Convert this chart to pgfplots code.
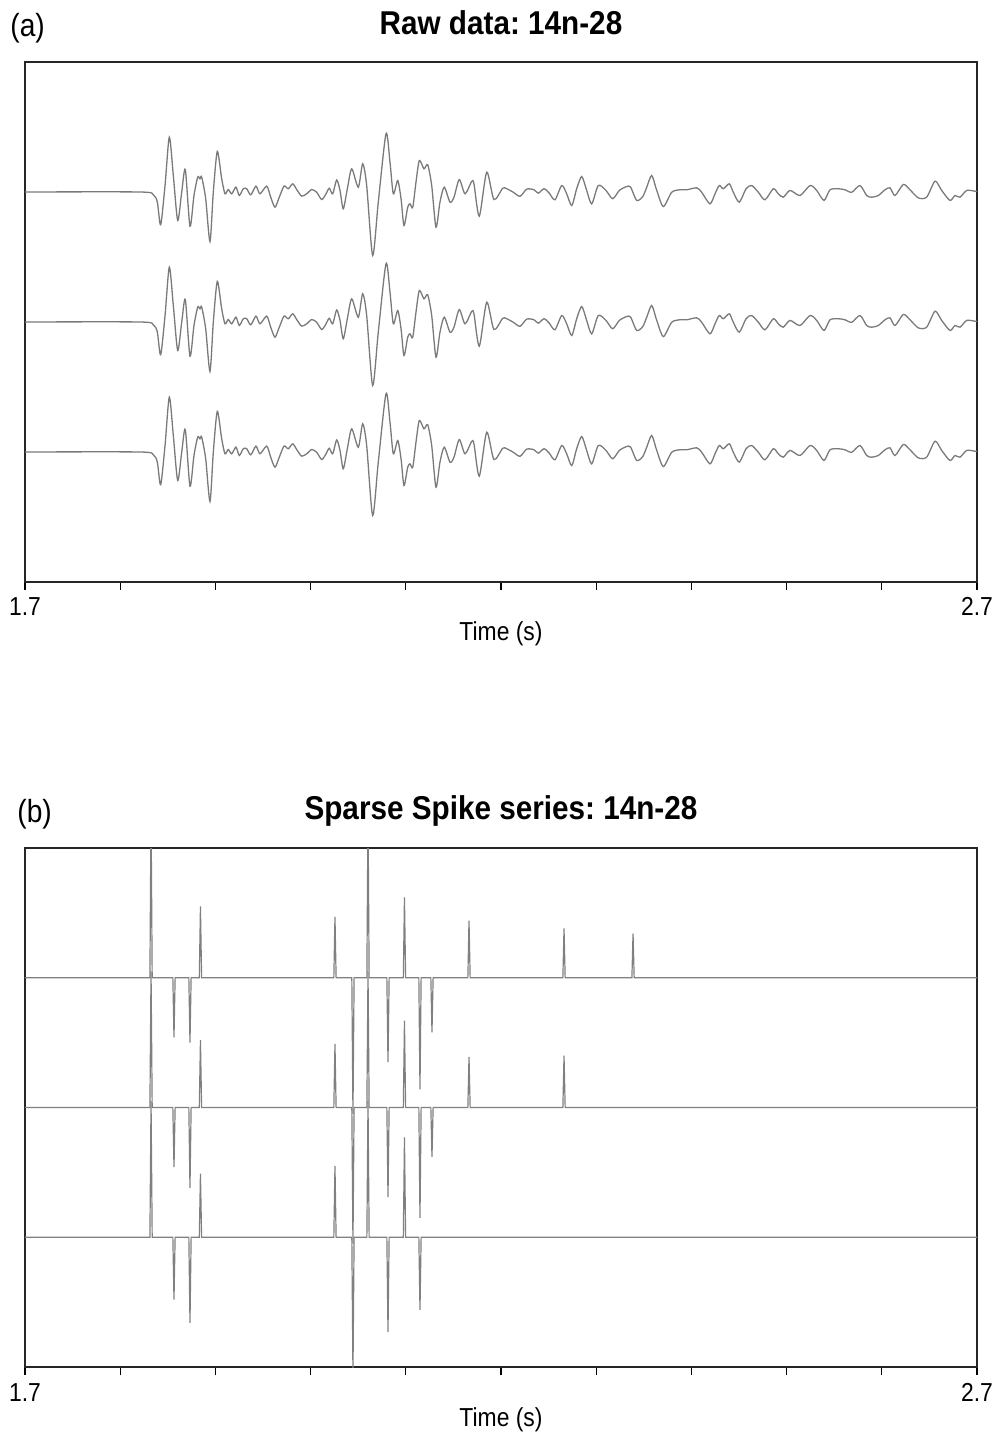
\documentclass[border=0pt]{standalone}
\usepackage{pgfplots}
\usepackage{pgfplotstable}
\pgfplotsset{compat=1.18}
\usepackage{fontspec}
\setmainfont{Liberation Sans}
\newfontfamily\narrowfont[FakeStretch=0.88]{Liberation Sans}
\newfontfamily\narrowbold[FakeStretch=0.9]{Liberation Sans Bold}
\definecolor{wave}{HTML}{7A7A7A}
\definecolor{spk}{HTML}{808080}
\frenchspacing

\pgfplotstableread{
t a
1.7000 0
1.8208 0
1.8348 -0.022
1.8390 -0.078
1.8425 -0.252
1.8471 0.050
1.8516 0.422
1.8558 0.127
1.8604 -0.219
1.8646 -0.002
1.8684 0.171
1.8733 -0.263
1.8775 -0.027
1.8814 0.114
1.8838 0.102
1.8856 0.114
1.8898 -0.052
1.8943 -0.381
1.8978 -0.002
1.9020 0.312
1.9066 0.102
1.9101 -0.014
1.9135 0.019
1.9171 -0.014
1.9216 0.037
1.9251 -0.027
1.9293 0.025
1.9329 0.025
1.9371 -0.022
1.9426 0.045
1.9468 -0.014
1.9539 0.045
1.9581 -0.040
1.9626 -0.117
1.9671 -0.040
1.9721 0.045
1.9766 0.025
1.9812 0.063
1.9854 0.019
1.9906 -0.032
1.9959 -0.014
2.0012 0.019
2.0064 -0.002
2.0117 -0.058
2.0162 -0.014
2.0196 0.029
2.0232 -0.014
2.0274 0.092
2.0309 0.012
2.0343 -0.129
2.0386 0.025
2.0432 0.178
2.0501 0.037
2.0547 0.217
2.0589 0.050
2.0652 -0.488
2.0711 -0.078
2.0792 0.448
2.0834 0.229
2.0869 -0.014
2.0915 0.088
2.0950 -0.052
2.0981 -0.258
2.1020 -0.117
2.1044 -0.091
2.1073 -0.117
2.1107 0.075
2.1142 0.242
2.1191 0.178
2.1230 0.209
2.1272 0.050
2.1317 -0.271
2.1359 -0.078
2.1404 0.037
2.1464 -0.078
2.1506 -0.040
2.1562 0.096
2.1622 -0.014
2.1692 0.081
2.1716 0.063
2.1772 -0.186
2.1850 0.152
2.1926 -0.058
2.2018 0.029
2.2060 0.025
2.2129 -0.002
2.2200 -0.033
2.2270 0.022
2.2347 0.017
2.2392 -0.009
2.2452 0.025
2.2507 -0.009
2.2567 -0.060
2.2638 0.050
2.2690 -0.014
2.2743 -0.104
2.2795 0.025
2.2848 0.119
2.2900 0.012
2.2953 -0.091
2.3022 0.050
2.3103 0.012
2.3173 -0.052
2.3243 0.012
2.3320 0.042
2.3362 0.037
2.3425 -0.065
2.3489 -0.035
2.3531 0.037
2.3583 0.127
2.3636 0.012
2.3705 -0.112
2.3793 -0.002
2.3880 0.017
2.3951 0.017
2.4056 0.032
2.4108 -0.002
2.4195 -0.091
2.4248 -0.014
2.4293 0.050
2.4335 0.025
2.4398 0.063
2.4440 -0.002
2.4503 -0.078
2.4574 0.025
2.4633 0.050
2.4703 -0.002
2.4773 -0.060
2.4860 0.025
2.4913 -0.014
2.4965 -0.040
2.5036 0.012
2.5141 -0.027
2.5246 0.050
2.5316 0.012
2.5393 -0.065
2.5456 0.017
2.5543 0.025
2.5613 0.017
2.5684 -0.002
2.5771 0.050
2.5841 -0.027
2.5894 -0.040
2.5963 -0.027
2.6034 0.017
2.6086 0.032
2.6139 -0.027
2.6226 0.058
2.6296 0.017
2.6383 -0.045
2.6471 -0.040
2.6559 0.083
2.6629 0.012
2.6716 -0.065
2.6769 -0.027
2.6821 -0.040
2.6892 0.012
2.6979 0.006
2.7000 0.006
}\rawtrace

\pgfplotstableread{
t a
1.7000 0
1.8312 0
1.8324 1.3
1.8336 0
1.8553 0
1.8565 -0.46
1.8577 0
1.8721 0
1.8733 -0.50
1.8745 0
1.8831 0
1.8843 0.55
1.8855 0
2.0244 0
2.0256 0.47
2.0268 0
2.0433 0
2.0445 -1.05
2.0457 0
2.0591 0
2.0603 1.3
2.0615 0
2.0801 0
2.0813 -0.65
2.0825 0
2.0974 0
2.0986 0.62
2.0998 0
2.1137 0
2.1149 -0.86
2.1161 0
2.1263 0
2.1275 -0.42
2.1287 0
2.1652 0
2.1664 0.44
2.1676 0
2.2650 0
2.2662 0.38
2.2674 0
2.3375 0
2.3387 0.34
2.3399 0
2.7000 0
}\spikeA

\pgfplotstableread{
t a
1.7000 0
1.8312 0
1.8324 1.05
1.8336 0
1.8553 0
1.8565 -0.46
1.8577 0
1.8721 0
1.8733 -0.62
1.8745 0
1.8831 0
1.8843 0.52
1.8855 0
2.0244 0
2.0256 0.49
2.0268 0
2.0433 0
2.0445 -1.05
2.0457 0
2.0591 0
2.0603 1.05
2.0615 0
2.0801 0
2.0813 -0.69
2.0825 0
2.0974 0
2.0986 0.67
2.0998 0
2.1137 0
2.1149 -0.85
2.1161 0
2.1263 0
2.1275 -0.38
2.1287 0
2.1652 0
2.1664 0.39
2.1676 0
2.2650 0
2.2662 0.40
2.2674 0
2.7000 0
}\spikeB

\pgfplotstableread{
t a
1.7000 0
1.8312 0
1.8324 1.05
1.8336 0
1.8553 0
1.8565 -0.48
1.8577 0
1.8721 0
1.8733 -0.66
1.8745 0
1.8831 0
1.8843 0.49
1.8855 0
2.0244 0
2.0256 0.55
2.0268 0
2.0433 0
2.0445 -1.05
2.0457 0
2.0591 0
2.0603 1.05
2.0615 0
2.0801 0
2.0813 -0.73
2.0825 0
2.0974 0
2.0986 0.77
2.0998 0
2.1137 0
2.1149 -0.56
2.1161 0
2.7000 0
}\spikeC

\pgfplotsset{
  panel/.style={
    scale only axis,
    width=476pt,
    xmin=1.7, xmax=2.7, ymin=0, ymax=4,
    xtick={1.7,2.7},
    minor xtick={1.8,1.9,2.0,2.1,2.2,2.3,2.4,2.5,2.6},
    ytick=\empty,
    xtick pos=bottom,
    tick align=outside,
    major tick length=4pt,
    minor tick length=4pt,
    every tick/.style={black, line width=0.6pt},
    every minor tick/.style={black, line width=0.6pt},
    axis line style={line width=1pt, black!85},
    xticklabel style={font=\narrowfont\fontsize{13}{15}\selectfont, anchor=base, yshift=-13pt},
    /pgf/number format/assume math mode=true,
    /pgf/number format/fixed, /pgf/number format/precision=1,
    xlabel={Time (s)},
    xlabel style={font=\narrowfont\fontsize{13}{15}\selectfont, at={(axis description cs:0.5,0)}, anchor=base, yshift=-29.5pt},
    title style={font=\narrowbold\fontsize{16.5}{19}\selectfont, at={(axis description cs:0.5,1)}, anchor=base},
  },
}

\begin{document}
\begin{tikzpicture}
\begin{axis}[panel, height=260pt, at={(12.5pt,427pt)}, anchor=south west,
  title={Raw data: 14n-28}, title style={yshift=7.5pt}]
\addplot[color=wave, line width=0.65pt, smooth, tension=0.45] table[x=t, y expr=\thisrow{a}+3] {\rawtrace};
\addplot[color=wave, line width=0.65pt, smooth, tension=0.45] table[x=t, y expr=\thisrow{a}+2] {\rawtrace};
\addplot[color=wave, line width=0.65pt, smooth, tension=0.45] table[x=t, y expr=\thisrow{a}+1] {\rawtrace};
\end{axis}
\begin{axis}[panel, height=259.5pt, at={(12.5pt,34.5pt)}, anchor=south west,
  title={Sparse Spike series: 14n-28}, title style={yshift=8.5pt}]
\addplot[color=spk, line width=0.6pt] table[x=t, y expr=\thisrow{a}+3] {\spikeA};
\addplot[color=spk, line width=0.6pt] table[x=t, y expr=\thisrow{a}+2] {\spikeB};
\addplot[color=spk, line width=0.6pt] table[x=t, y expr=\thisrow{a}+1] {\spikeC};
\end{axis}
\node[anchor=base west, font=\narrowfont\fontsize{16}{18}\selectfont, inner sep=0pt] at (5pt,699.5pt) {(a)};
\node[anchor=base west, font=\narrowfont\fontsize{16}{18}\selectfont, inner sep=0pt] at (8.5pt,306.5pt) {(b)};
\pgfresetboundingbox
\useasboundingbox (0,0) rectangle (501.5pt,718pt);
\end{tikzpicture}
\end{document}
